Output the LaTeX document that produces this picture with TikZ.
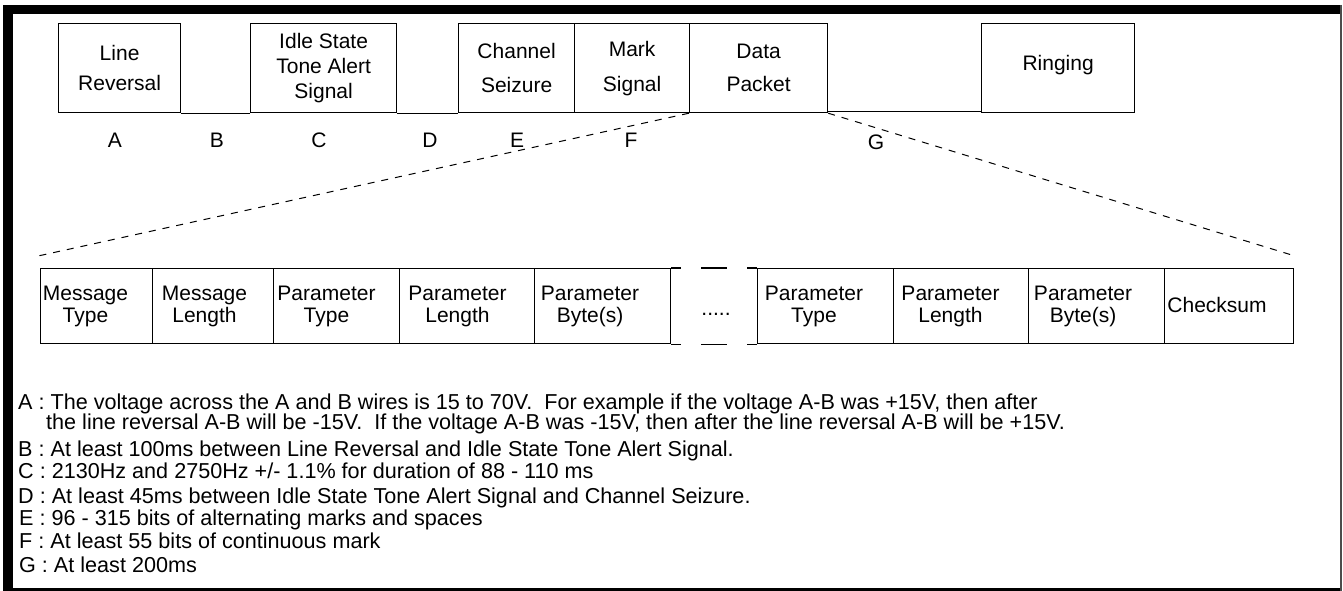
\documentclass[tikz,border=0pt]{standalone}
\usepackage{fontspec}
\setmainfont{Liberation Sans}
\newcommand\fsz[2]{\fontsize{#1}{#2}\selectfont}
\begin{document}
\begin{tikzpicture}[x=1pt,y=-1pt,
  tbox/.style={draw, line width=1.2pt, anchor=north west, minimum height=89pt, inner sep=0pt, align=center},
  bbox/.style={draw, line width=1.2pt, anchor=north west, minimum height=75pt, inner sep=0pt},
  btxt/.style={inner sep=0pt, align=center, font=\fsz{21}{22}},
  lbl/.style={inner sep=0pt, font=\fsz{21}{21}},
  conn/.style={line width=1.2pt},
  dsh/.style={line width=1pt, dash pattern=on 7pt off 7pt},
  note/.style={inner sep=0pt, anchor=base west, font=\fsz{21.6}{22}}]
\useasboundingbox (0,0) rectangle (1343,591);
% frame
\fill (3,5) rectangle (1341,14);
\fill (3,5) rectangle (13,591);
\fill (3,588) rectangle (1341,591);
\draw[line width=1.2pt, black!70] (1341,5) -- (1341,591);
% top row
\node[tbox, minimum width=122pt, font=\fsz{21}{30}] (lr) at (58,23) {Line\\Reversal};
\node[tbox, minimum width=146pt, font=\fsz{21}{25}] (idle) at (250,23) {Idle State\\Tone Alert\\Signal};
\node[tbox, minimum width=116pt, font=\fsz{21}{34}] (chan) at (458,23) {Channel\\Seizure};
\node[tbox, minimum width=115pt, font=\fsz{21}{35}] (mark) at (574,23) {Mark\\Signal};
\node[tbox, minimum width=138pt, font=\fsz{21}{33}] (data) at (689,23) {Data\\Packet};
\node[tbox, minimum width=153pt, font=\fsz{21}{21}, text height=10pt, text depth=6pt] (ring) at (981,23) {Ringing};
\draw[conn] (lr.south east) -- (idle.south west);
\draw[conn] (idle.south east) -- (chan.south west);
\draw[conn] ([yshift=1.5pt]data.south east) -- ([yshift=1.5pt]ring.south west);
% letters
\node[lbl] (la) at (115,140) {A};
\node[lbl] (lb) at (217,140) {B};
\node[lbl] (lc) at (319,140) {C};
\node[lbl] (ld) at (430,140) {D};
\node[lbl] (le) at (517,140) {E};
\node[lbl] (lf) at (631,140) {F};
\node[lbl] (lg) at (876,142) {G};
% dashed expansion lines
\coordinate (dl) at (38,256);
\coordinate (dr) at (1295,256);
\draw[dsh] (data.south west) -- (dl);
\draw[dsh] (data.south east) -- (dr);
% bottom row
\node[bbox, minimum width=112pt] (mt) at (40,268) {};
\node[bbox, minimum width=121pt] (ml) at (152,268) {};
\node[bbox, minimum width=126pt] (pt1) at (273,268) {};
\node[bbox, minimum width=135pt] (pl1) at (399,268) {};
\node[bbox, minimum width=136pt] (pb1) at (534,268) {};
\node[bbox, minimum width=136pt] (pt2) at (757,268) {};
\node[bbox, minimum width=135pt] (pl2) at (893,268) {};
\node[bbox, minimum width=136pt] (pb2) at (1028,268) {};
\node[bbox, minimum width=129pt] (cs) at (1164,268) {};
\node[btxt] (mt-t) at (85.5,306) {Message\\Type};
\node[btxt] (ml-t) at (204.5,306) {Message\\Length};
\node[btxt] (pt1-t) at (326.5,306) {Parameter\\Type};
\node[btxt] (pl1-t) at (457.5,306) {Parameter\\Length};
\node[btxt] (pb1-t) at (590,306) {Parameter\\Byte(s)};
\node[btxt] (pt2-t) at (814,306) {Parameter\\Type};
\node[btxt] (pl2-t) at (950.5,306) {Parameter\\Length};
\node[btxt] (pb2-t) at (1083,306) {Parameter\\Byte(s)};
\node[btxt] (cs-t) at (1217,305) {Checksum};
\node[btxt, anchor=base] (dots) at (716,315) {.....};
\draw[conn] (pb1.north east) -- ++(10,0);
\draw[conn] ([xshift=30pt]pb1.north east) -- ([xshift=-30pt]pt2.north west);
\draw[conn] (pt2.north west) -- ++(-10,0);
\draw[conn] (pb1.south east) -- ++(10,0);
\draw[conn] ([xshift=30pt]pb1.south east) -- ([xshift=-30pt]pt2.south west);
\draw[conn] (pt2.south west) -- ++(-10,0);
% notes
\node[note] (na) at (18,409.5) {A : The voltage across the A and B wires is 15 to 70V.\ \ For example if the voltage A-B was +15V, then after};
\node[note] (na2) at (46,429.5) {the line reversal A-B will be -15V.\ \ If the voltage A-B was -15V, then after the line reversal A-B will be +15V.};
\node[note] (nb) at (18,456.5) {B : At least 100ms between Line Reversal and Idle State Tone Alert Signal.};
\node[note] (nc) at (18,478.5) {C : 2130Hz and 2750Hz +/- 1.1\% for duration of 88 - 110 ms};
\node[note] (nd) at (18,503.5) {D : At least 45ms between Idle State Tone Alert Signal and Channel Seizure.};
\node[note] (ne) at (19,525.5) {E : 96 - 315 bits of alternating marks and spaces};
\node[note] (nf) at (19,548.5) {F : At least 55 bits of continuous mark};
\node[note] (ng) at (19,572.5) {G : At least 200ms};
\end{tikzpicture}
\end{document}
